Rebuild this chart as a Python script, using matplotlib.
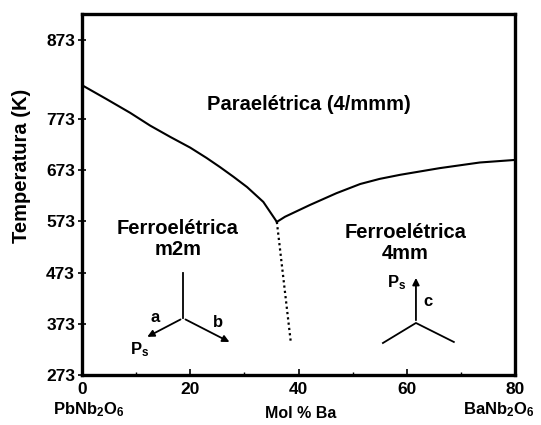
import matplotlib
matplotlib.use('Agg')
import matplotlib.pyplot as plt

plt.rcParams['font.family'] = ['Liberation Sans', 'DejaVu Sans']
plt.rcParams['mathtext.default'] = 'regular'

# phase boundary (Mol % Ba, K on the drawn scale)
left_x = [0, 4.5, 8.9, 12.6, 16.3, 20.0, 23.0, 25.5, 28.0, 30.5, 33.5, 36.0]
left_t = [839, 812, 785, 760, 738, 717, 697, 679, 660, 640, 611, 572]
right_x = [36.0, 37.5, 42.1, 47.0, 51.4, 55.0, 58.8, 66.1, 73.5, 80]
right_t = [572, 582, 605, 628, 646, 656, 664, 677, 688, 693]
mpb_x = [36.0, 38.6]
mpb_t = [572, 335]

x_ticks = [0, 20, 40, 60, 80]
x_minor = [10, 30, 50, 70]
# the top label sits higher than the regular 100 K spacing in the original
y_ticks = [273, 373, 473, 573, 673, 773, 927]
y_labels = ['273', '373', '473', '573', '673', '773', '873']

fig = plt.figure(figsize=(5.41, 4.25), dpi=100)
ax = fig.add_axes([82 / 541, 50 / 425, 433 / 541, 361 / 425])

ax.plot(left_x, left_t, color='black', lw=1.5)
ax.plot(right_x, right_t, color='black', lw=1.5)
ax.plot(mpb_x, mpb_t, color='black', lw=1.6, linestyle=(0, (1, 1.4)))

ax.set_xlim(0, 80)
ax.set_ylim(273, 978)
ax.set_xticks(x_ticks)
ax.set_xticks(x_minor, minor=True)
ax.set_yticks(y_ticks)
ax.set_yticklabels(y_labels)

for sp in ax.spines.values():
    sp.set_linewidth(2.4)

ax.tick_params(axis='x', which='major', direction='in', length=4.5, width=1.2,
               labelsize=12.5, pad=5)
ax.tick_params(axis='x', which='minor', direction='in', length=2.5, width=1.0)
ax.tick_params(axis='y', direction='inout', length=6, width=1.2,
               labelsize=12.5, pad=2)
for lab in ax.get_xticklabels() + ax.get_yticklabels():
    lab.set_fontweight('bold')

# region labels
ax.text(41.9, 802, 'Paraelétrica (4/mmm)', ha='center', va='center',
        fontsize=14.5, fontweight='bold')
ax.text(17.7, 539, 'Ferroelétrica\nm2m', ha='center', va='center',
        fontsize=14.5, fontweight='bold', linespacing=1.1)
ax.text(59.7, 531, 'Ferroelétrica\n4mm', ha='center', va='center',
        fontsize=14.5, fontweight='bold', linespacing=1.1)

# orthorhombic axes sketch
arrow = dict(arrowstyle='-|>', color='black', lw=1.3, mutation_scale=10)
ax.plot([18.66, 18.66], [384, 472], color='black', lw=1.3)
ax.annotate('', xy=(11.6, 345), xytext=(18.66, 384), arrowprops=arrow)
ax.annotate('', xy=(27.7, 335), xytext=(18.66, 384), arrowprops=arrow)
ax.text(13.5, 385, 'a', ha='center', va='center', fontsize=12, fontweight='bold')
ax.text(25.1, 375, 'b', ha='center', va='center', fontsize=12, fontweight='bold')
ax.text(10.7, 322, 'P$_s$', ha='center', va='center', fontsize=12, fontweight='bold')

# tetragonal axes sketch
ax.annotate('', xy=(61.7, 468), xytext=(61.7, 374.6), arrowprops=arrow)
ax.plot([55.6, 61.7, 68.7], [335.5, 374.6, 337.5], color='black', lw=1.3)
ax.text(63.9, 416, 'c', ha='center', va='center', fontsize=12, fontweight='bold')
ax.text(58.2, 453, 'P$_s$', ha='center', va='center', fontsize=12, fontweight='bold')

fig.text(22 / 541, 1 - 166 / 425, 'Temperatura (K)', rotation=90,
         ha='center', va='center', fontsize=14.5, fontweight='bold')
fig.text(301 / 541, 1 - 413 / 425, 'Mol % Ba', ha='center', va='center',
         fontsize=11.5, fontweight='bold')
fig.text(89 / 541, 1 - 410 / 425, 'PbNb$_2$O$_6$', ha='center', va='center',
         fontsize=12, fontweight='bold')
fig.text(463 / 541, 1 - 410 / 425, 'BaNb$_2$O$_6$', ha='left', va='center',
         fontsize=12, fontweight='bold')

fig.savefig('out.png', dpi=100)
